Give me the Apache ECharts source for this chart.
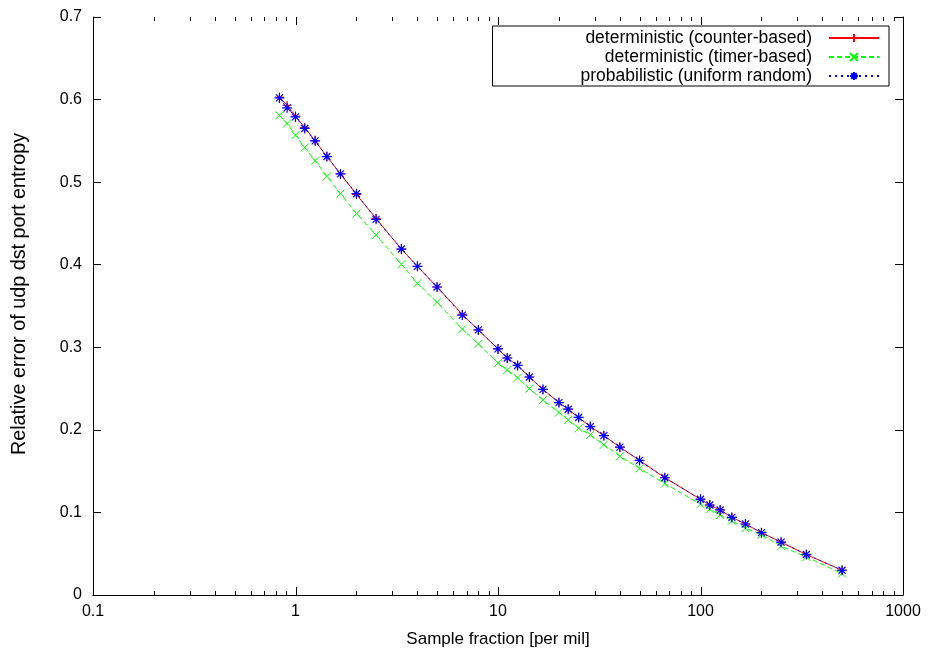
<!DOCTYPE html>
<html><head><meta charset="utf-8">
<script src="https://cdn.jsdelivr.net/npm/echarts@6/dist/echarts.min.js"></script>
<style>html,body{margin:0;padding:0;background:#fff}#c{width:932px;height:655px}</style>
</head><body><div id="c"></div>
<script>
// Sample fraction [per mil]
const sampleFraction = [0.833, 0.909, 1, 1.111, 1.25, 1.429, 1.667, 2, 2.5, 3.333, 4, 5,
  6.667, 8, 10, 11.11, 12.5, 14.29, 16.67, 20, 22.22, 25, 28.57, 33.33, 40, 50,
  66.67, 100, 111.1, 125, 142.9, 166.7, 200, 250, 333.3, 500];
const counterBased = [0.603, 0.593, 0.580, 0.566, 0.550, 0.531, 0.510, 0.485, 0.456, 0.419, 0.398, 0.373,
  0.340, 0.321, 0.298, 0.287, 0.278, 0.264, 0.249, 0.233, 0.225, 0.215, 0.204, 0.193, 0.179, 0.163,
  0.142, 0.116, 0.109, 0.103, 0.094, 0.086, 0.0755, 0.064, 0.049, 0.030];
const timerBased = [0.581, 0.571, 0.557, 0.542, 0.526, 0.507, 0.486, 0.462, 0.436, 0.4005, 0.3775, 0.3545,
  0.322, 0.304, 0.281, 0.2725, 0.263, 0.250, 0.236, 0.221, 0.212, 0.202, 0.194, 0.182, 0.168, 0.1534,
  0.135, 0.110, 0.104, 0.097, 0.090, 0.081, 0.073, 0.059, 0.046, 0.026];
const uniformRandom = [0.602, 0.590, 0.579, 0.565, 0.550, 0.531, 0.510, 0.486, 0.455, 0.419, 0.398, 0.373,
  0.339, 0.321, 0.298, 0.287, 0.278, 0.264, 0.249, 0.233, 0.225, 0.215, 0.204, 0.193, 0.179, 0.163,
  0.142, 0.116, 0.109, 0.103, 0.094, 0.086, 0.0755, 0.064, 0.049, 0.030];
const seriesNames = ['deterministic (counter-based)', 'deterministic (timer-based)', 'probabilistic (uniform random)'];
const xMajorTicks = [0.1, 1, 10, 100, 1000];
const xMinorTicks = [0.2,0.3,0.4,0.5,0.6,0.7,0.8,0.9, 2,3,4,5,6,7,8,9, 20,30,40,50,60,70,80,90, 200,300,400,500,600,700,800,900];

const FONT = 'Liberation Sans, Arial, Helvetica, sans-serif';
const PLUS = 'path://M0,5L10,5M5,0L5,10';
const CROSS = 'path://M0,0L10,10M10,0L0,10';
const STAR = 'path://M0,5L10,5M5,0L5,10M1.5,1.5L8.5,8.5M8.5,1.5L1.5,8.5';
const X_MIN = 0.1, X_MAX = 1000, Y_MIN = 0, Y_MAX = 0.7;

function pairs(ys) { return sampleFraction.map((x, i) => [x, ys[i]]); }

const chart = echarts.init(document.getElementById('c'), null, {renderer: 'canvas'});
const axisLineStyle = {show: true, lineStyle: {color: '#000', width: 1}};
const yTickStyle = {show: true, inside: true, length: 8, lineStyle: {color: '#000', width: 1}};
const labelStyle = {color: '#000', fontFamily: FONT, fontSize: 16};

chart.setOption({
  animation: false,
  backgroundColor: '#fff',
  grid: {left: 93, right: 29, top: 17, bottom: 60, show: false},
  legend: {
    data: seriesNames,
    orient: 'vertical',
    align: 'right',
    right: 43, top: 26,
    itemWidth: 50, itemHeight: 10, itemGap: 1,
    padding: [3, 9, 1, 88],
    borderColor: '#000', borderWidth: 1,
    textStyle: {color: '#000', fontFamily: FONT, fontSize: 17.5,
      rich: {a: {color: '#000', fontFamily: FONT, fontSize: 17.5, padding: [0, 12, 0, 0]}}},
    formatter: n => '{a|' + n + '}',
    selectedMode: false
  },
  xAxis: [{
    type: 'log', logBase: 10, min: X_MIN, max: X_MAX, position: 'bottom',
    axisLine: axisLineStyle, axisTick: {show: false}, splitLine: {show: false},
    axisLabel: Object.assign({margin: 9, formatter: v => String(+(+v).toPrecision(6))}, labelStyle),
    name: 'Sample fraction [per mil]', nameLocation: 'middle', nameGap: 36,
    nameTextStyle: {color: '#000', fontFamily: FONT, fontSize: 17}
  }, {
    type: 'log', logBase: 10, min: X_MIN, max: X_MAX, position: 'top',
    axisLine: axisLineStyle, axisTick: {show: false}, splitLine: {show: false},
    axisLabel: {show: false}
  }],
  yAxis: [{
    type: 'value', min: Y_MIN, max: Y_MAX, interval: 0.1, position: 'left',
    axisLine: axisLineStyle, axisTick: yTickStyle, splitLine: {show: false},
    axisLabel: Object.assign({margin: 11}, labelStyle),
    name: 'Relative error of udp dst port entropy', nameLocation: 'middle', nameGap: 63, nameRotate: 90,
    nameTextStyle: {color: '#000', fontFamily: FONT, fontSize: 19.8, padding: [0, 0, 0, 24]}
  }, {
    type: 'value', min: Y_MIN, max: Y_MAX, interval: 0.1, position: 'right',
    axisLine: axisLineStyle, axisTick: yTickStyle, splitLine: {show: false},
    axisLabel: {show: false}
  }],
  series: [
    {
      name: seriesNames[0], type: 'line', data: pairs(counterBased),
      symbol: PLUS, symbolSize: 9,
      lineStyle: {color: '#ff0000', width: 1, type: 'solid'},
      itemStyle: {color: 'rgba(0,0,0,0)', borderColor: '#ff0000', borderWidth: 1},
      z: 3
    },
    {
      name: seriesNames[1], type: 'line', data: pairs(timerBased),
      symbol: CROSS, symbolSize: 8,
      lineStyle: {color: '#00ff00', width: 1, type: [5, 3]},
      itemStyle: {color: 'rgba(0,0,0,0)', borderColor: '#00ff00', borderWidth: 1},
      z: 2
    },
    {
      name: seriesNames[2], type: 'line', data: pairs(uniformRandom),
      symbol: STAR, symbolSize: 10,
      lineStyle: {color: '#0000ff', width: 1, type: [2, 4]},
      itemStyle: {color: 'rgba(0,0,0,0)', borderColor: '#0000ff', borderWidth: 1.2},
      z: 4
    }
  ]
});

// Log-axis tick marks (major + minor) on bottom and top, pointing inward, placed via the chart's own scale
const tickEls = [];
const st = {stroke: '#000', lineWidth: 1};
function px(x, y) { return chart.convertToPixel({gridIndex: 0}, [x, y]); }
function addXTicks(values, len) {
  values.forEach(v => {
    const b = px(v, Y_MIN), t = px(v, Y_MAX);
    const x = Math.round(b[0]) + 0.5;
    tickEls.push({type: 'line', shape: {x1: x, y1: b[1], x2: x, y2: b[1] - len}, style: st, z: 100});
    tickEls.push({type: 'line', shape: {x1: x, y1: t[1], x2: x, y2: t[1] + len}, style: st, z: 100});
  });
}
addXTicks(xMajorTicks, 8);
addXTicks(xMinorTicks, 4);
chart.setOption({graphic: {elements: tickEls}});
</script></body></html>
